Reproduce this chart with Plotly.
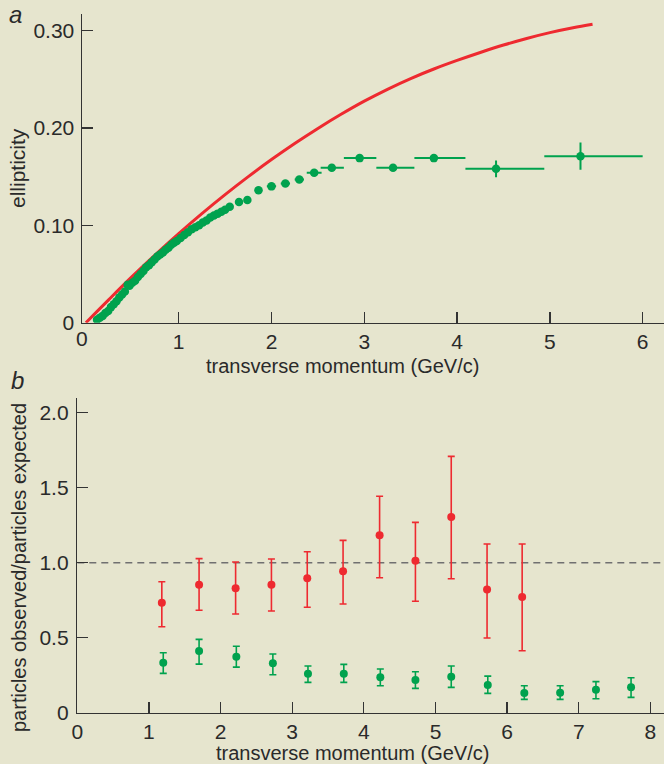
import plotly.graph_objects as go

# ---------------- data: panel a ----------------
red_curve_x = [0.0, 0.25, 0.5, 0.75, 1.0, 1.25, 1.5, 1.75, 2.0, 2.25, 2.5, 2.75, 3.0, 3.25, 3.5, 3.75,
               4.0, 4.25, 4.5, 4.75, 5.0, 5.25, 5.46]
red_curve_y = [0.0, 0.024, 0.0475, 0.070, 0.0915, 0.112, 0.1315, 0.150, 0.1675, 0.184, 0.1995, 0.214, 0.2275,
               0.2397, 0.2507, 0.2605, 0.2693, 0.2775, 0.2851, 0.2919, 0.2979, 0.3029, 0.3064]

green_a_x = [0.12, 0.15, 0.18, 0.21, 0.24, 0.27, 0.30, 0.33, 0.36, 0.39, 0.42, 0.45, 0.47, 0.50,
             0.53, 0.56, 0.59, 0.62, 0.65, 0.68, 0.71, 0.74, 0.77, 0.80, 0.83, 0.86, 0.89, 0.92,
             0.95, 0.98, 1.02, 1.06, 1.10, 1.14, 1.18, 1.22, 1.26, 1.30, 1.34, 1.38, 1.42, 1.46,
             1.50, 1.55, 1.65, 1.74, 1.86, 2.00, 2.15, 2.30, 2.46, 2.65, 2.95, 3.31, 3.75, 4.42, 5.33]
green_a_y = [0.003, 0.005, 0.007, 0.010, 0.012, 0.016, 0.019, 0.022, 0.026, 0.029, 0.032, 0.039, 0.038, 0.041,
             0.043, 0.047, 0.050, 0.053, 0.057, 0.059, 0.062, 0.065, 0.068, 0.070, 0.072, 0.075, 0.077, 0.080,
             0.082, 0.084, 0.087, 0.090, 0.093, 0.096, 0.098, 0.100, 0.103, 0.105, 0.108, 0.110, 0.112, 0.114,
             0.116, 0.119, 0.124, 0.126, 0.136, 0.140, 0.143, 0.147, 0.154, 0.159, 0.169, 0.159, 0.169, 0.158, 0.171]
green_a_xerr_plus = [0] * 46 + [0.04, 0.05, 0.05, 0.05, 0.08, 0.13, 0.18, 0.23, 0.34, 0.52, 0.67]
green_a_xerr_minus = [0] * 46 + [0.04, 0.05, 0.05, 0.05, 0.08, 0.12, 0.17, 0.18, 0.21, 0.33, 0.39]
green_a_yerr = [0] * 55 + [0.0086, 0.014]

# ---------------- data: panel b ----------------
red_b_x = [1.18, 1.70, 2.21, 2.71, 3.21, 3.71, 4.22, 4.72, 5.22, 5.72, 6.21]
red_b_y = [0.733, 0.853, 0.829, 0.853, 0.896, 0.943, 1.183, 1.013, 1.305, 0.822, 0.771]
red_b_hi = [0.873, 1.027, 1.005, 1.025, 1.073, 1.149, 1.443, 1.269, 1.709, 1.125, 1.125]
red_b_lo = [0.573, 0.683, 0.658, 0.678, 0.703, 0.725, 0.900, 0.743, 0.893, 0.498, 0.413]

green_b_x = [1.20, 1.70, 2.22, 2.73, 3.22, 3.72, 4.23, 4.72, 5.22, 5.73, 6.24, 6.74, 7.24, 7.73]
green_b_y = [0.333, 0.411, 0.373, 0.329, 0.260, 0.260, 0.236, 0.218, 0.240, 0.184, 0.131, 0.133, 0.153, 0.169]
green_b_hi = [0.400, 0.489, 0.443, 0.391, 0.311, 0.322, 0.291, 0.273, 0.311, 0.244, 0.180, 0.180, 0.207, 0.233]
green_b_lo = [0.262, 0.324, 0.304, 0.253, 0.202, 0.202, 0.180, 0.162, 0.169, 0.129, 0.089, 0.089, 0.093, 0.102]

xticks_a = [1, 2, 3, 4, 5, 6]
yticks_a = [0, 0.10, 0.20, 0.30]
yticklabels_a = ["0", "0.10", "0.20", "0.30"]
xticks_b = [0, 1, 2, 3, 4, 5, 6, 7, 8]
yticks_b = [0, 0.5, 1.0, 1.5, 2.0]
yticklabels_b = ["0", "0.5", "1.0", "1.5", "2.0"]

# ---------------- style ----------------
W, H = 664, 764
BG = "#E6E5CE"
RED = "#EE2A30"
GREEN = "#00A24E"
AX = "#333333"
TXT = "#2A2A2A"
FONT = "Liberation Sans"

fig = go.Figure()

fig.add_trace(go.Scatter(
    x=red_curve_x, y=red_curve_y, mode="lines", line=dict(color=RED, width=3, shape="spline"),
    xaxis="x", yaxis="y", showlegend=False, hoverinfo="skip"))

fig.add_trace(go.Scatter(
    x=green_a_x, y=green_a_y, mode="markers",
    marker=dict(color=GREEN, size=8.5),
    error_x=dict(type="data", symmetric=False, array=green_a_xerr_plus, arrayminus=green_a_xerr_minus,
                 color=GREEN, thickness=2, width=0),
    error_y=dict(type="data", array=green_a_yerr, color=GREEN, thickness=2, width=0),
    xaxis="x", yaxis="y", showlegend=False))

red_plus = [h - v for h, v in zip(red_b_hi, red_b_y)]
red_minus = [v - l for l, v in zip(red_b_lo, red_b_y)]
green_plus = [h - v for h, v in zip(green_b_hi, green_b_y)]
green_minus = [v - l for l, v in zip(green_b_lo, green_b_y)]

fig.add_trace(go.Scatter(
    x=red_b_x, y=red_b_y, mode="markers", marker=dict(color=RED, size=8),
    error_y=dict(type="data", symmetric=False, array=red_plus, arrayminus=red_minus,
                 color=RED, thickness=1.6, width=3.5),
    xaxis="x2", yaxis="y2", showlegend=False))

fig.add_trace(go.Scatter(
    x=green_b_x, y=green_b_y, mode="markers", marker=dict(color=GREEN, size=8),
    error_y=dict(type="data", symmetric=False, array=green_plus, arrayminus=green_minus,
                 color=GREEN, thickness=1.6, width=3.5),
    xaxis="x2", yaxis="y2", showlegend=False))

tickfont = dict(family=FONT, size=21, color=TXT)
common = dict(showline=True, linecolor=AX, linewidth=1.5, ticks="inside", ticklen=11,
              tickwidth=1.3, tickcolor=AX, showgrid=False, zeroline=False, tickfont=tickfont,
              automargin=False)

fig.update_layout(
    width=W, height=H, autosize=False,
    margin=dict(l=0, r=0, t=0, b=0, pad=0),
    paper_bgcolor=BG, plot_bgcolor=BG,
    xaxis=dict(domain=[82 / W, 1], range=[-0.042, 6.23], anchor="y",
               tickvals=xticks_a, ticktext=[str(v) for v in xticks_a], ticklabelstandoff=0, **common),
    yaxis=dict(domain=[(H - 322.7) / H, (H - 14) / H], range=[0, 0.317], anchor="x",
               tickvals=yticks_a, ticktext=yticklabels_a, ticklabelstandoff=2, **common),
    xaxis2=dict(domain=[77.3 / W, 1], range=[0, 8.19], anchor="y2",
                tickvals=xticks_b, ticktext=[str(v) for v in xticks_b], **common),
    yaxis2=dict(domain=[(H - 712.7) / H, (H - 398) / H], range=[0, 2.098], anchor="x2",
                tickvals=yticks_b, ticktext=yticklabels_b, ticklabelstandoff=3, **common),
)

fig.add_shape(type="line", xref="x2", yref="y2", x0=0, x1=8.19, y0=1.0, y1=1.0,
              line=dict(color="#707070", width=1.5, dash="7px,5px"), layer="below")

lab = dict(family=FONT, size=20, color=TXT)
base = dict(xref="paper", yref="paper", showarrow=False, xanchor="center", yanchor="middle")
ann = [
    dict(text="<i>a</i>", x=15.5 / W, y=1 - 14 / H, font=dict(family=FONT, size=24, color=TXT), **base),
    dict(text="<i>b</i>", x=17.5 / W, y=1 - 380 / H, font=dict(family=FONT, size=24, color=TXT), **base),
    dict(text="0", x=82 / W, y=1 - 339 / H, font=tickfont, **base),
    dict(text="transverse momentum (GeV/c)", x=342.5 / W, y=1 - 366 / H, font=lab, **base),
    dict(text="transverse momentum (GeV/c)", x=353 / W, y=1 - 753 / H, font=lab, **base),
    dict(text="ellipticity", x=17 / W, y=1 - 168 / H, textangle=-90, font=dict(family=FONT, size=21, color=TXT), **base),
    dict(text="particles observed/particles expected", x=19 / W, y=1 - 568 / H, textangle=-90,
         font=lab, **base),
]
fig.update_layout(annotations=ann)

fig.write_html("out.html", config={"displayModeBar": False, "staticPlot": True},
               post_script="document.body.style.margin='0';document.body.style.padding='0';"
                           "document.body.style.overflow='hidden';")
